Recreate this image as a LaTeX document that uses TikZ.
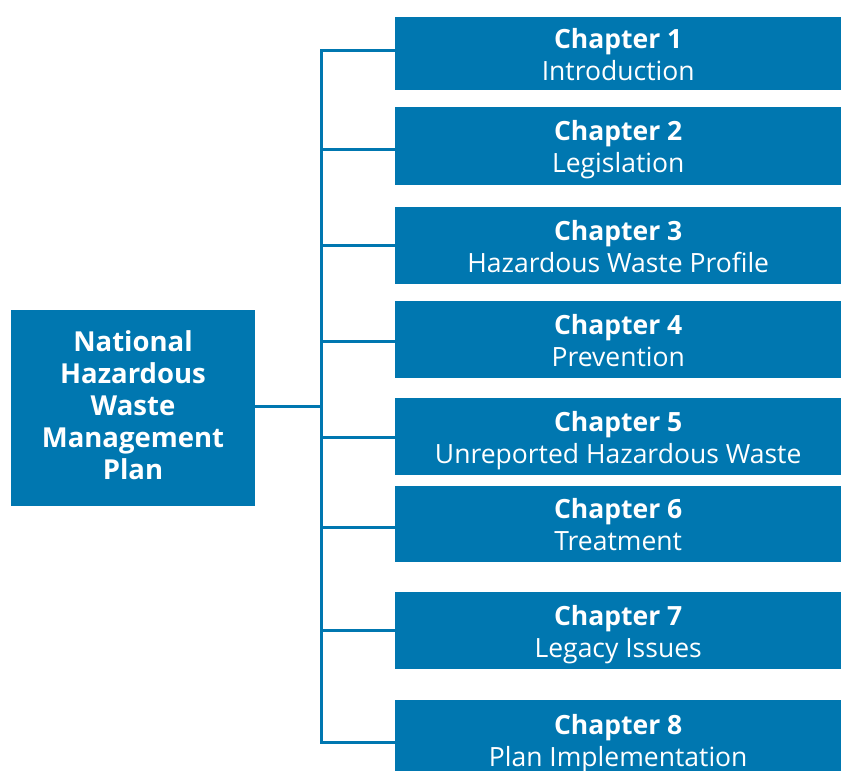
\documentclass[tikz,border=0pt]{standalone}
\usepackage{fontspec}
\setmainfont{Open Sans}
\definecolor{nhblue}{HTML}{0077B0}
\tikzset{
  box/.style={fill=nhblue,text=white,inner sep=0pt,align=center,font=\fontsize{26.5}{32}\selectfont},
  chapbox/.style={box,minimum width=446,anchor=north west,text height=53pt,text depth=0pt},
  link/.style={draw=nhblue,line width=3pt}
}
\begin{document}
\begin{tikzpicture}[x=1pt,y=-1pt]
\useasboundingbox (0,0) rectangle (841,771);
\node[box,minimum width=244,minimum height=196,text height=148pt,text depth=6pt,font=\bfseries\fontsize{27.5}{32}\selectfont] (main) at (133,408) {National\\Hazardous\\Waste\\Management\\Plan};
\node[chapbox,minimum height=73] (c1) at (395,17) {\textbf{Chapter 1}\\Introduction};
\node[chapbox,minimum height=78] (c2) at (395,107) {\textbf{Chapter 2}\\Legislation};
\node[chapbox,minimum height=77] (c3) at (395,207) {\textbf{Chapter 3}\\Hazardous Waste Profile};
\node[chapbox,minimum height=77] (c4) at (395,301) {\textbf{Chapter 4}\\Prevention};
\node[chapbox,minimum height=77] (c5) at (395,398) {\textbf{Chapter 5}\\Unreported Hazardous Waste};
\node[chapbox,minimum height=76] (c6) at (395,486) {\textbf{Chapter 6}\\Treatment};
\node[chapbox,minimum height=77] (c7) at (395,592) {\textbf{Chapter 7}\\Legacy Issues};
\node[chapbox,minimum height=80] (c8) at (395,700) {\textbf{Chapter 8}\\Plan Implementation};
\coordinate (t1) at (321,50);
\coordinate (t2) at (321,149);
\coordinate (t3) at (321,245);
\coordinate (t4) at (321,341);
\coordinate (t5) at (321,437);
\coordinate (t6) at (321,527);
\coordinate (t7) at (321,630);
\coordinate (t8) at (321,742);
\coordinate (tm) at (321,406);
\draw[link] (c1.west |- t1) -- (t1) -- (t8) -- (c8.west |- t8);
\foreach \i in {2,...,7} {\draw[link] (t\i) -- (c\i.west |- t\i);}
\draw[link] (main.east |- tm) -- (tm);
\end{tikzpicture}
\end{document}
